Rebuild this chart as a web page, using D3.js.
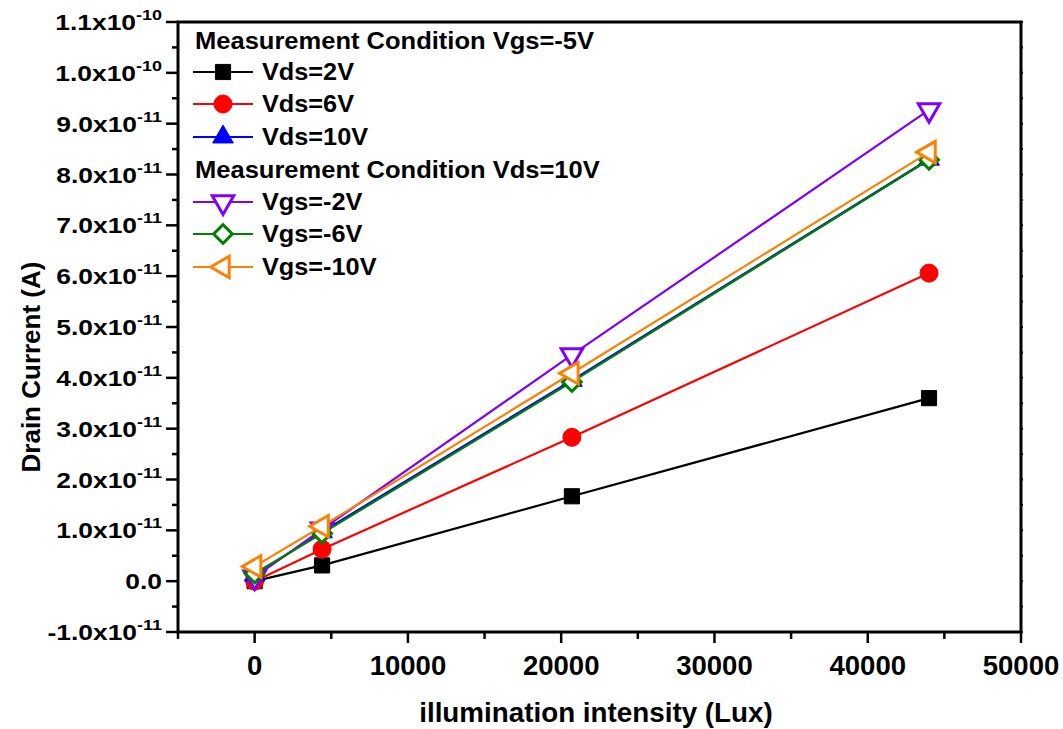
<!DOCTYPE html>
<html><head><meta charset="utf-8">
<script src="https://cdn.jsdelivr.net/npm/d3@7"></script>
<style>
body{margin:0;background:#fff}
svg{display:block}
text{font-family:"Liberation Sans",Arial,sans-serif;font-weight:bold;fill:#000}
</style>
</head><body>
<svg id="c" width="1063" height="729"></svg>
<script>
// ---- data ----
const xValues = [0, 4400, 20700, 44000];
const seriesNames = ["Vds=2V", "Vds=6V", "Vds=10V", "Vgs=-2V", "Vgs=-6V", "Vgs=-10V"];
const vds2V  = [0.00e-11, 0.31e-11, 1.67e-11, 3.60e-11];
const vds6V  = [0.00e-11, 0.63e-11, 2.83e-11, 6.06e-11];
const vds10V = [0.12e-11, 0.97e-11, 3.95e-11, 8.30e-11];
const vgsM2V = [0.08e-11, 1.02e-11, 4.45e-11, 9.27e-11];
const vgsM6V = [0.15e-11, 0.94e-11, 3.92e-11, 8.29e-11];
const vgsM10V= [0.29e-11, 1.08e-11, 4.09e-11, 8.44e-11];
const seriesColors = ["#000000", "#ff0000", "#0000ff", "#8000ff", "#008000", "#ff8000"];
const seriesShapes = ["square", "circle", "triUp", "triDown", "diamond", "triLeft"];
const seriesFilled = [true, true, true, false, false, false];
const legendHeaders = ["Measurement Condition Vgs=-5V", "Measurement Condition Vds=10V"];
const xTicks = [0, 10000, 20000, 30000, 40000, 50000];
const xTickLabels = ["0", "10000", "20000", "30000", "40000", "50000"];
const yTicks = [-1e-11, 0, 1e-11, 2e-11, 3e-11, 4e-11, 5e-11, 6e-11, 7e-11, 8e-11, 9e-11, 1e-10, 1.1e-10];
const yTickMantissa = ["-1.0x10", "0.0", "1.0x10", "2.0x10", "3.0x10", "4.0x10", "5.0x10", "6.0x10", "7.0x10", "8.0x10", "9.0x10", "1.0x10", "1.1x10"];
const yTickExponent = ["-11", "", "-11", "-11", "-11", "-11", "-11", "-11", "-11", "-11", "-11", "-10", "-10"];
const xTitle = "illumination intensity (Lux)";
const yTitle = "Drain Current (A)";

const seriesValues = [vds2V, vds6V, vds10V, vgsM2V, vgsM6V, vgsM10V];

// ---- layout ----
const L = 178, R = 1021, T = 22, B = 632;
const svg = d3.select("#c");
const x = d3.scaleLinear().domain([-5000, 50000]).range([L, R]);
const y = d3.scaleLinear().domain([-1e-11, 1.1e-10]).range([B, T]);

function markerPath(shape) {
  switch (shape) {
    case "square": return d3.symbol(d3.symbolSquare, 230)();
    case "circle": return d3.symbol(d3.symbolCircle, 255)();
    case "triUp": return d3.symbol(d3.symbolTriangle, 185)();
    case "triDown": return d3.symbol(d3.symbolTriangle, 200)();
    case "triLeft": return d3.symbol(d3.symbolTriangle, 200)();
    case "diamond": return d3.symbol(d3.symbolSquare, 175)();
  }
}
function markerRot(shape) {
  return shape === "triDown" ? 180 : shape === "triLeft" ? -90 : shape === "diamond" ? 45 : 0;
}
function drawMarker(g, shape, color, filled, cx, cy) {
  g.append("path")
    .attr("d", markerPath(shape))
    .attr("transform", `translate(${cx},${cy}) rotate(${markerRot(shape)})`)
    .attr("fill", filled ? color : "#fff")
    .attr("stroke", color)
    .attr("stroke-width", filled ? 1 : 3)
    .attr("stroke-linejoin", "miter");
}
// text stretched horizontally like the reference
function stext(g, tx, ty, size, sx, anchor) {
  return g.append("text")
    .attr("transform", `translate(${tx},${ty}) scale(${sx},1)`)
    .attr("text-anchor", anchor || "start")
    .style("font-size", size + "px");
}

// ---- series ----
const line = d3.line().x((d, i) => x(xValues[i])).y(d => y(d));
const plot = svg.append("g");
seriesValues.forEach((vals, s) => {
  const g = plot.append("g");
  g.append("path").datum(vals).attr("d", line)
    .attr("fill", "none").attr("stroke", seriesColors[s]).attr("stroke-width", 2.2);
  vals.forEach((v, i) => drawMarker(g, seriesShapes[s], seriesColors[s], seriesFilled[s], x(xValues[i]), y(v)));
});

// ---- axes ----
const ax = svg.append("g");
ax.append("rect").attr("x", L).attr("y", T).attr("width", R - L).attr("height", B - T)
  .attr("fill", "none").attr("stroke", "#000").attr("stroke-width", 3);

const xMinor = d3.range(-5000, 50001, 5000);
xMinor.forEach(v => {
  const major = v % 10000 === 0;
  ax.append("line").attr("x1", x(v)).attr("x2", x(v)).attr("y1", B).attr("y2", B + (major ? 11 : 7))
    .attr("stroke", "#000").attr("stroke-width", 2.5);
});
xTicks.forEach((v, i) => {
  stext(ax, x(v), B + 43, 27, 1.02, "middle").text(xTickLabels[i]);
});

const yMinor = d3.range(-10, 111, 5).map(d => d * 1e-12);
yMinor.forEach(v => {
  const major = Math.round(v * 1e12) % 10 === 0;
  ax.append("line").attr("x1", L).attr("x2", L - (major ? 12 : 6)).attr("y1", y(v)).attr("y2", y(v))
    .attr("stroke", "#000").attr("stroke-width", 2.5);
  ax.append("line").attr("x1", R).attr("x2", R + 2).attr("y1", y(v)).attr("y2", y(v))
    .attr("stroke", "#000").attr("stroke-width", 2);
});
yTicks.forEach((v, i) => {
  const t = stext(ax, 162, y(v) + 8, 22, 1.2, "end");
  t.append("tspan").text(yTickMantissa[i]);
  if (yTickExponent[i]) {
    t.append("tspan").attr("dy", -10).style("font-size", "15px").text(yTickExponent[i]);
  }
});

// titles
stext(svg, 596, 722, 27, 1.03, "middle").text(xTitle);
svg.append("text").attr("transform", "translate(40,367) rotate(-90)").attr("text-anchor", "middle")
  .style("font-size", "26px").text(yTitle);

// ---- legend ----
const lg = svg.append("g");
const rowY = [72, 104, 137, 202, 234, 267];
const headerY = [41, 170];
headerY.forEach((yy, i) => {
  stext(lg, 195, yy + 8, 23, 1.11).text(legendHeaders[i]);
});
seriesNames.forEach((name, s) => {
  const yy = rowY[s];
  lg.append("line").attr("x1", 193).attr("x2", 253).attr("y1", yy).attr("y2", yy)
    .attr("stroke", seriesColors[s]).attr("stroke-width", 2.2);
  drawMarker(lg, seriesShapes[s], seriesColors[s], seriesFilled[s], 223, yy);
  stext(lg, 262, yy + 8, 23, 1.1).text(name);
});
</script>
</body></html>
